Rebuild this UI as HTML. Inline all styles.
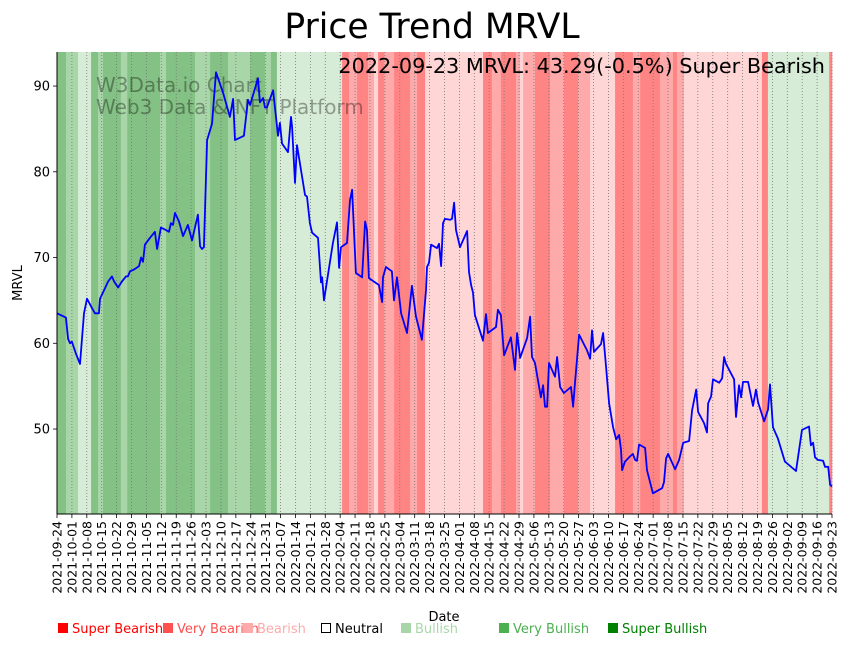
<!DOCTYPE html>
<html><head><meta charset="utf-8"><style>
html,body{margin:0;padding:0;background:#fff;}
svg{display:block;font-family:"DejaVu Sans","Liberation Sans",sans-serif;}
</style></head><body>
<svg id="chart" width="848" height="646" viewBox="0 0 848 646" xmlns="http://www.w3.org/2000/svg">
<g id="bands"></g>
<g id="grid"></g>
<text x="96" y="92" font-size="20" fill="#000" fill-opacity="0.35">W3Data.io Chart</text>
<text x="96" y="114" font-size="20" fill="#000" fill-opacity="0.35">Web3 Data &amp; NFT Platform</text>
<g id="line"></g>
<g id="axes"></g>
<text x="432" y="38" font-size="34.5" text-anchor="middle">Price Trend MRVL</text>
<text x="825" y="73" font-size="20.8" text-anchor="end">2022-09-23 MRVL: 43.29(-0.5%) Super Bearish</text>
<text transform="translate(22,283) rotate(-90)" font-size="13" text-anchor="middle">MRVL</text>
<text x="444" y="621" font-size="13" text-anchor="middle">Date</text>
<g id="legend" font-size="13"></g>
</svg>
<script>
const days=[0,4.2,5.2,6.1,7.0,8.9,10.8,12.7,14.1,16.0,17.8,19.7,20.2,22.1,24.0,25.8,26.8,28.7,30.5,32.4,33.3,34.3,36.2,38.5,39.5,40.4,41.3,43.7,46.0,47.0,48.8,51.2,52.6,53.5,54.5,55.4,57.3,59.2,61.5,63.4,66.2,67.2,68.1,69.0,70.5,72.8,74.7,78.0,81.2,82.7,83.6,87.8,89.7,90.7,94.4,95.3,96.8,97.7,98.6,101.5,103.8,104.7,105.7,108.5,109.9,110.4,111.8,112.7,116.5,117.4,118.8,119.8,122.6,124.0,124.5,125.4,129.6,131.5,132.5,133.4,136.2,137.6,138.6,140.4,143.3,144.7,145.6,146.5,151.2,152.7,153.1,154.5,157.3,158.3,159.7,161.6,164.4,166.7,168.6,171.4,173.3,173.8,174.7,175.7,178.5,179.4,180.4,181.3,182.2,184.6,185.5,186.5,187.4,189.3,192.6,193.5,194.5,195.4,196.3,200.1,201.5,202.4,206.2,207.1,208.5,210.0,213.2,215.1,216.1,217.5,220.8,222.2,223.1,224.5,227.3,228.3,229.2,230.2,231.1,233.9,234.9,236.3,238.1,241.4,242.4,243.3,245.2,248.9,250.4,251.3,252.2,255.5,256.5,257.9,259.3,261.2,262.6,264.0,264.9,265.4,266.8,269.1,270.5,271.5,272.4,273.4,276.2,277.1,279.9,284.2,285.1,286.1,287.0,290.3,292.2,294.1,296.9,298.3,300.2,301.1,303.9,305.3,305.8,307.2,308.1,311.0,312.4,313.3,314.2,318.0,318.9,320.3,321.3,322.2,324.6,326.9,328.3,329.3,332.1,334.0,334.9,336.3,338.6,341.9,347.1,349.9,353.2,354.1,355.1,356.0,357.4,359.8,360.7,362.2,363.1,364];
const prices=[63.5,63,60.5,60,60.2,58.8,57.6,63.5,65.2,64.3,63.5,63.5,65.2,66.2,67.2,67.8,67.2,66.5,67.2,67.8,67.8,68.4,68.6,69,70,69.5,71.5,72.3,73,71,73.5,73.2,73,74,73.8,75.2,74.2,72.5,73.8,72,75,71.3,71,71.2,83.7,85.6,91.6,89.2,86.4,88.5,83.7,84.2,88.4,87.8,90.9,88.1,88.6,87.5,87.5,89.5,84.2,85.7,83.3,82.3,86.4,85.2,78.7,83.1,77.3,77.1,74,72.9,72.3,67.1,67.7,65.0,71.7,74.1,68.8,71.2,71.7,76.7,77.9,68.2,67.7,74.2,73.2,67.6,66.8,64.8,67.7,68.9,68.4,65.0,67.7,63.5,61.2,66.7,63.1,60.4,66.2,68.9,69.4,71.5,71.1,71.6,69.0,74.0,74.5,74.4,74.5,76.4,73.2,71.2,73.1,68.3,66.8,65.9,63.3,60.3,63.4,61.2,61.9,63.9,63.3,58.6,60.7,56.9,61.2,58.3,60.6,63.1,58.4,57.7,53.7,55.1,52.6,52.6,57.7,56.1,58.4,54.9,54.2,54.9,52.6,55.4,61.0,59.2,58.2,61.5,59.0,59.9,61.2,57.2,53.0,50.2,48.8,49.3,47.6,45.2,46.2,46.8,47.1,46.4,46.3,48.2,47.8,45.2,42.5,43.1,43.8,46.6,47.1,45.3,46.4,48.4,48.6,52.2,54.6,52.0,50.7,49.6,53.0,53.8,55.8,55.4,55.9,58.4,57.6,55.8,51.4,55.1,53.7,55.5,55.5,52.7,54.6,53.1,50.9,52.3,55.2,50.2,48.9,46.2,45.1,49.9,50.3,48.1,48.4,46.7,46.4,46.3,45.6,45.6,43.5,43.3];
const bandStart=[0,4.2,9.9,16,19.3,21.6,30,33,48.4,51.2,64.8,71.9,80.3,90.7,97.7,100.5,103.3,133.9,137.2,140.9,146.1,148.9,150.8,153.7,158.3,165.8,169.1,172.9,200.1,204.3,208.5,215.6,217.5,218.9,224.5,231.6,238.1,244.7,250.4,262.1,270.5,273.9,283.2,289.3,291.2,294.5,331.1,333.9,362.7];
const bandRegime=[3,2,1,3,2,3,2,3,2,3,2,3,2,3,2,3,1,-3,-2,-3,-2,-1,-3,-2,-3,-2,-3,-1,-3,-2,-3,-2,-1,-2,-3,-2,-3,-2,-1,-3,-2,-3,-2,-3,-2,-1,-3,1,-3];
const bandEnd=364;
const yTicks=[50,60,70,80,90];
const startDate='2021-09-24';
const regimeColor={'3':'#84c184','2':'#a9d6a9','1':'#d6ecd6','-1':'#ffd6d6','-2':'#ffaaaa','-3':'#ff8585'};
const legendLabels=['Super Bearish','Very Bearish','Bearish','Neutral','Bullish','Very Bullish','Super Bullish'];
const legendColors=['#ff0000','#ff5050','#ffaaaa','#000000','#a9d6a9','#4caf50','#008000'];

const X0=57,X1=832,Y0=52,Y1=514,DMAX=364,VMIN=40.09,VMAX=93.97;
const xs=d=>X0+(d/DMAX)*(X1-X0);
const ys=v=>Y1-(v-VMIN)/(VMAX-VMIN)*(Y1-Y0);
const NS='http://www.w3.org/2000/svg';
function mk(tag,attrs,parent){const e=document.createElementNS(NS,tag);for(const k in attrs)e.setAttribute(k,attrs[k]);parent.appendChild(e);return e;}

const bg=document.getElementById('bands');
for(let i=0;i<bandStart.length;i++){
  const s=bandStart[i], e=(i+1<bandStart.length)?bandStart[i+1]:bandEnd;
  const r=bandRegime[i];
  const rc=mk('rect',{x:xs(s),y:Y0,width:Math.max(0,xs(e)-xs(s))+0.3,height:Y1-Y0,fill:regimeColor[String(r)]},bg);
  
  
}
const gg=document.getElementById('grid'), ax=document.getElementById('axes');
const sd=new Date(startDate+'T00:00:00Z');
for(let d=0;d<=DMAX;d+=7){
  const x=xs(d);
  const gl=mk('line',{x1:x,x2:x,y1:Y0,y2:Y1,stroke:'#777','stroke-width':0.8,'stroke-dasharray':'1,2'},gg);
  
  
  mk('line',{x1:x,x2:x,y1:Y1,y2:Y1+4,stroke:'#000','stroke-width':0.8},ax);
  const dt=new Date(sd.getTime()+d*86400000);
  const lbl=dt.toISOString().slice(0,10);
  const t=mk('text',{transform:`translate(${x+4.5},${Y1+7}) rotate(-90)`,'font-size':12.5,'text-anchor':'end'},ax);
  t.textContent=lbl;
  
  
}
yTicks.forEach(v=>{
  const y=ys(v);
  mk('line',{x1:X0-4,x2:X0,y1:y,y2:y,stroke:'#000','stroke-width':0.8},ax);
  const t=mk('text',{x:X0-7,y:y+4.5,'font-size':13,'text-anchor':'end'},ax);
  t.textContent=v;
  
  
});
mk('line',{x1:X0,x2:X0,y1:Y0,y2:Y1,stroke:'#000','stroke-width':1},ax);
mk('line',{x1:X0,x2:X1,y1:Y1,y2:Y1,stroke:'#000','stroke-width':1},ax);
const pts=days.map((d,i)=>xs(d).toFixed(1)+','+ys(prices[i]).toFixed(1)).join(' ');
const pl=mk('polyline',{points:pts,fill:'none',stroke:'#0000ff','stroke-width':1.8,'stroke-linejoin':'round'},document.getElementById('line'));


const lg=document.getElementById('legend');
const lx=[57,162,242,320,400,498,607];
legendLabels.forEach((l,i)=>{
  const g=mk('g',{},lg);
  
  
  if(i===3){mk('rect',{x:lx[i]+1.5,y:623.5,width:9,height:9,fill:'none',stroke:'#000','stroke-width':1},g);}
  else mk('rect',{x:lx[i]+1,y:623,width:10,height:10,fill:legendColors[i]},g);
  const t=mk('text',{x:lx[i]+15,y:633,fill:legendColors[i]},g);
  t.textContent=l;
});
</script>
</body></html>
